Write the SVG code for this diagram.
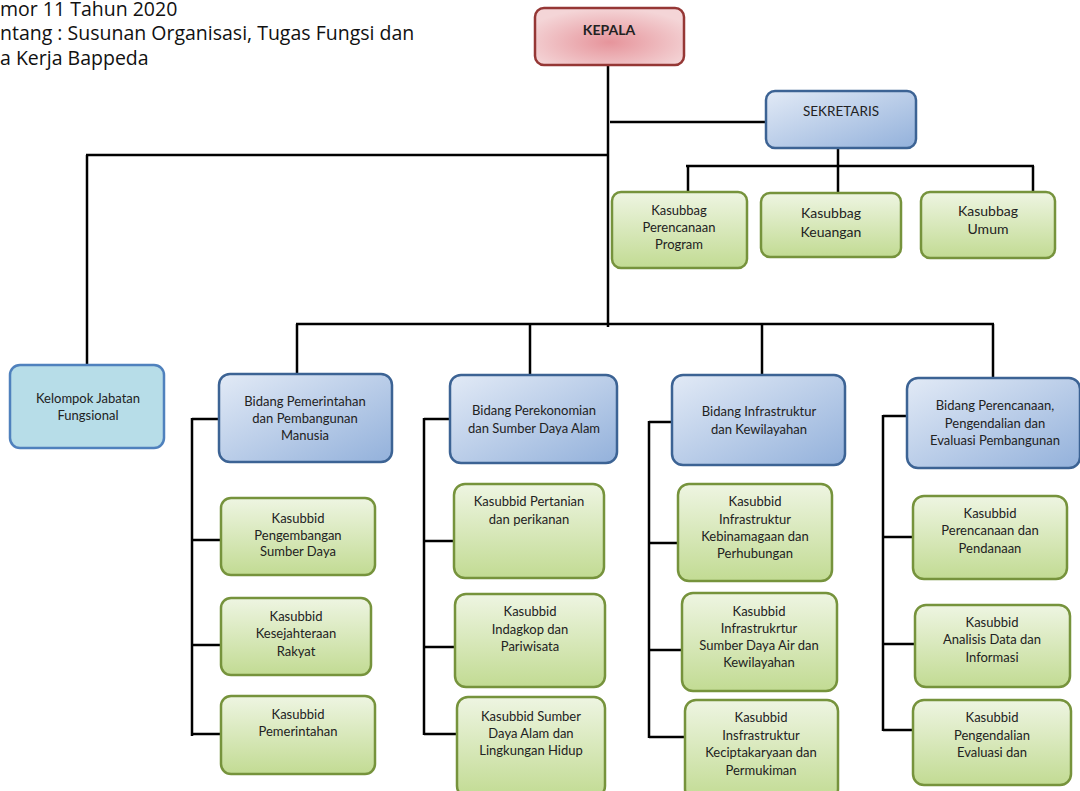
<svg xmlns="http://www.w3.org/2000/svg" width="1080" height="791" viewBox="0 0 1080 791">
<defs>
<linearGradient id="gGreen" x1="0" y1="0" x2="0" y2="1"><stop offset="0" stop-color="#eef5e2"/><stop offset="1" stop-color="#c2db93"/></linearGradient>
<linearGradient id="gBlue" x1="0" y1="0" x2="1" y2="1"><stop offset="0" stop-color="#e2eaf6"/><stop offset="1" stop-color="#93b1db"/></linearGradient>
<radialGradient id="gRed" cx="0.5" cy="0.6" r="0.6"><stop offset="0" stop-color="#e6949b"/><stop offset="1" stop-color="#f4d5d7"/></radialGradient>
<style>
.t{font-family:Lato,"Liberation Sans",sans-serif;font-size:13px;fill:#222;text-anchor:middle}
.h{font-family:"Open Sans","Liberation Sans",sans-serif;font-size:19.5px;fill:#111}
.green{fill:url(#gGreen);stroke:#76933c;stroke-width:2.5}
.blue{fill:url(#gBlue);stroke:#3c6394;stroke-width:2.5}
.cyan{fill:#b7dde8;stroke:#4f81bd;stroke-width:2.5}
.red{fill:url(#gRed);stroke:#953735;stroke-width:2.5}
.c{stroke:#000;stroke-width:2.5;fill:none}
</style>
</defs>
<rect width="1080" height="791" fill="#fff"/>
<g id="title">
<text class="h" x="0" y="16">mor 11 Tahun 2020</text>
<text class="h" x="0" y="40">ntang : Susunan Organisasi, Tugas Fungsi dan</text>
<text class="h" x="0" y="65">a Kerja Bappeda</text>
</g>
<g id="connectors">
<path class="c" d="M608 66V327"/>
<path class="c" d="M610 122H766"/>
<path class="c" d="M86 155H608"/>
<path class="c" d="M87 155V365"/>
<path class="c" d="M838 148V166"/>
<path class="c" d="M686 166H1034"/>
<path class="c" d="M688 166V192M838 166V193M1033 166V192"/>
<path class="c" d="M296 324H994"/>
<path class="c" d="M297 324V374M530 324V375M762 324V375M993 324V378"/>
<path class="c" d="M192 419H219M192 418V736M192 540H221M192 645H221M192 734H221"/>
<path class="c" d="M424 419H450M424 418V735M424 541H454M424 647H455M424 734H457"/>
<path class="c" d="M649 422H673M649 421V738M649 543H678M649 650H682M649 737H686"/>
<path class="c" d="M883 416H907M883 415V731M883 537H913M883 644H915M883 730H914"/>
</g>
<g id="kepala"><rect class="red" x="535" y="8" width="149" height="57" rx="9"/><text class="t" x="609" y="35" style="font-weight:bold;font-size:14px">KEPALA</text></g>
<g id="sekretaris"><rect class="blue" x="766" y="91" width="150" height="57" rx="9"/><text class="t" x="841" y="116" style="font-size:13.5px">SEKRETARIS</text></g>
<g id="kasubbag-program"><rect class="green" x="612" y="192" width="135" height="76" rx="9"/><text class="t" x="679" y="215">Kasubbag</text><text class="t" x="679" y="232">Perencanaan</text><text class="t" x="679" y="249">Program</text></g>
<g id="kasubbag-keuangan"><rect class="green" x="761" y="193" width="140" height="64" rx="9"/><text class="t" x="831" y="218" style="font-size:14px">Kasubbag</text><text class="t" x="831" y="237" style="font-size:14px">Keuangan</text></g>
<g id="kasubbag-umum"><rect class="green" x="921" y="192" width="134" height="66" rx="9"/><text class="t" x="988" y="216" style="font-size:14px">Kasubbag</text><text class="t" x="988" y="234" style="font-size:14px">Umum</text></g>
<g id="kelompok"><rect class="cyan" x="10" y="365" width="154" height="83" rx="10"/><text class="t" x="88" y="403">Kelompok Jabatan</text><text class="t" x="88" y="420">Fungsional</text></g>
<g id="bidang-pemerintahan"><rect class="blue" x="219" y="374" width="173" height="88" rx="11"/><text class="t" x="305" y="406">Bidang Pemerintahan</text><text class="t" x="305" y="423">dan Pembangunan</text><text class="t" x="305" y="440">Manusia</text></g>
<g id="bidang-perekonomian"><rect class="blue" x="450" y="375" width="167" height="88" rx="11"/><text class="t" x="534" y="415">Bidang Perekonomian</text><text class="t" x="534" y="433">dan Sumber Daya Alam</text></g>
<g id="bidang-infrastruktur"><rect class="blue" x="672" y="375" width="173" height="90" rx="11"/><text class="t" x="759" y="416">Bidang Infrastruktur</text><text class="t" x="759" y="434">dan Kewilayahan</text></g>
<g id="bidang-perencanaan"><rect class="blue" x="907" y="378" width="173" height="90" rx="11"/><text class="t" x="995" y="410">Bidang Perencanaan,</text><text class="t" x="995" y="428">Pengendalian dan</text><text class="t" x="995" y="445">Evaluasi Pembangunan</text></g>
<g id="kasubbid-pengembangan"><rect class="green" x="221" y="498" width="154" height="77" rx="10"/><text class="t" x="298" y="523">Kasubbid</text><text class="t" x="298" y="540">Pengembangan</text><text class="t" x="298" y="556">Sumber Daya</text></g>
<g id="kasubbid-kesejahteraan"><rect class="green" x="221" y="598" width="150" height="77" rx="10"/><text class="t" x="296" y="621">Kasubbid</text><text class="t" x="296" y="638">Kesejahteraan</text><text class="t" x="296" y="656">Rakyat</text></g>
<g id="kasubbid-pemerintahan"><rect class="green" x="221" y="696" width="154" height="78" rx="10"/><text class="t" x="298" y="719">Kasubbid</text><text class="t" x="298" y="736">Pemerintahan</text></g>
<g id="kasubbid-pertanian"><rect class="green" x="454" y="484" width="150" height="94" rx="11"/><text class="t" x="529" y="506">Kasubbid Pertanian</text><text class="t" x="529" y="524">dan perikanan</text></g>
<g id="kasubbid-indagkop"><rect class="green" x="455" y="594" width="150" height="93" rx="11"/><text class="t" x="530" y="616">Kasubbid</text><text class="t" x="530" y="634">Indagkop dan</text><text class="t" x="530" y="651">Pariwisata</text></g>
<g id="kasubbid-sda"><rect class="green" x="457" y="697" width="148" height="100" rx="11"/><text class="t" x="531" y="721">Kasubbid Sumber</text><text class="t" x="531" y="738">Daya Alam dan</text><text class="t" x="531" y="755">Lingkungan Hidup</text></g>
<g id="kasubbid-kebinamargaan"><rect class="green" x="678" y="484" width="154" height="97" rx="11"/><text class="t" x="755" y="506">Kasubbid</text><text class="t" x="755" y="524">Infrastruktur</text><text class="t" x="755" y="541">Kebinamagaan dan</text><text class="t" x="755" y="558">Perhubungan</text></g>
<g id="kasubbid-sda-air"><rect class="green" x="682" y="593" width="155" height="98" rx="11"/><text class="t" x="759" y="616">Kasubbid</text><text class="t" x="759" y="633">Infrastrukrtur</text><text class="t" x="759" y="650">Sumber Daya Air dan</text><text class="t" x="759" y="667">Kewilayahan</text></g>
<g id="kasubbid-keciptakaryaan"><rect class="green" x="685" y="700" width="153" height="100" rx="11"/><text class="t" x="761" y="722">Kasubbid</text><text class="t" x="761" y="740">Insfrastruktur</text><text class="t" x="761" y="757">Keciptakaryaan dan</text><text class="t" x="761" y="775">Permukiman</text></g>
<g id="kasubbid-pendanaan"><rect class="green" x="913" y="496" width="154" height="83" rx="11"/><text class="t" x="990" y="518">Kasubbid</text><text class="t" x="990" y="535">Perencanaan dan</text><text class="t" x="990" y="553">Pendanaan</text></g>
<g id="kasubbid-analisis"><rect class="green" x="915" y="605" width="155" height="82" rx="11"/><text class="t" x="992" y="627">Kasubbid</text><text class="t" x="992" y="644">Analisis Data dan</text><text class="t" x="992" y="662">Informasi</text></g>
<g id="kasubbid-pengendalian"><rect class="green" x="913" y="700" width="158" height="85" rx="11"/><text class="t" x="992" y="722">Kasubbid</text><text class="t" x="992" y="740">Pengendalian</text><text class="t" x="992" y="757">Evaluasi dan</text></g>
</svg>
